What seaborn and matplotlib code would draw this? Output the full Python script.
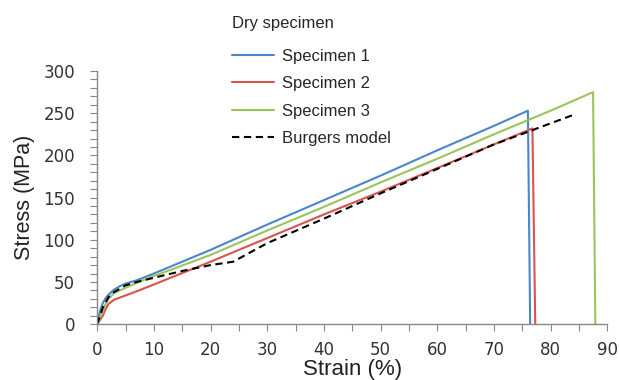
import matplotlib
matplotlib.use("Agg")
import matplotlib.pyplot as plt
import seaborn as sns
import pandas as pd

# Data
s1_strain = [0, 0.3, 0.6, 1, 1.5, 2, 3, 4, 5, 7, 10, 20, 30, 40, 50, 60, 70, 76.0, 76.4]
s1_stress = [0, 10, 18, 25, 31, 35, 41, 45, 48, 52, 60, 88, 118, 147, 176, 206, 235, 253, 0]

s2_strain = [0, 0.5, 1, 1.5, 2, 3, 5, 7, 10, 20, 30, 40, 50, 60, 70, 76.8, 77.3]
s2_stress = [0, 5, 10, 18, 24, 29, 34, 39, 47, 74, 102, 130, 157, 185, 213, 232, 0]

s3_strain = [0, 0.5, 1, 1.5, 2, 3, 5, 7, 10, 20, 30, 40, 50, 60, 70, 80, 87.5, 87.9]
s3_stress = [0, 8, 15, 24, 30, 37, 43, 49, 57, 82, 111, 139, 168, 196, 225, 253, 275, 0]

bm_strain = [0, 0.5, 1, 2, 3, 5, 7, 10, 15, 20, 24, 30, 40, 50, 60, 70, 84]
bm_stress = [0, 10, 20, 32, 38, 46, 50, 55, 63, 70, 74, 96, 125, 155, 184, 213, 248]

series_names = ["Specimen 1", "Specimen 2", "Specimen 3", "Burgers model"]
x_ticks = [0, 10, 20, 30, 40, 50, 60, 70, 80, 90]
y_ticks = [0, 50, 100, 150, 200, 250, 300]

frames = []
for name, xs, ys in zip(series_names,
                        [s1_strain, s2_strain, s3_strain, bm_strain],
                        [s1_stress, s2_stress, s3_stress, bm_stress]):
    frames.append(pd.DataFrame({"Strain": xs, "Stress": ys, "Series": name}))
df = pd.concat(frames, ignore_index=True)

sns.set_style("white")
plt.rcParams["font.family"] = ["Liberation Sans", "DejaVu Sans"]

fig = plt.figure(figsize=(6.19, 3.80), dpi=100)
ax = fig.add_axes([0.157, 0.147, 0.824, 0.666])

palette = {"Specimen 1": "#4A86C8", "Specimen 2": "#D9534F",
           "Specimen 3": "#9BC45A", "Burgers model": "#000000"}
dashes = {"Specimen 1": "", "Specimen 2": "", "Specimen 3": "",
          "Burgers model": (3.5, 2.2)}

sns.lineplot(data=df, x="Strain", y="Stress", hue="Series", style="Series",
             hue_order=series_names, style_order=series_names,
             palette=palette, dashes=dashes, sort=False, estimator=None,
             linewidth=1.5, ax=ax)

ax.set_xlim(0, 90)
ax.set_ylim(0, 300)
ax.set_xticks(x_ticks)
ax.set_yticks(y_ticks)
ax.set_xticks(range(0, 91, 5), minor=True)
ax.set_yticks(range(0, 301, 10), minor=True)
ax.set_xticklabels([str(v) for v in x_ticks], fontfamily="DejaVu Sans", fontsize=12, color="#333333")
ax.set_yticklabels([str(v) for v in y_ticks], fontfamily="DejaVu Sans", fontsize=12, color="#333333")
ax.tick_params(axis="both", which="both", direction="out", length=5, width=0.8, color="#888888")
ax.tick_params(axis="x", which="major", pad=7)
ax.tick_params(axis="y", which="major", pad=11)
ax.tick_params(axis="x", which="both", bottom=True)
ax.tick_params(axis="y", which="both", left=True)

for side in ["top", "right"]:
    ax.spines[side].set_visible(False)
for side in ["left", "bottom"]:
    ax.spines[side].set_color("#888888")
    ax.spines[side].set_linewidth(1.0)

ax.set_xlabel("Strain (%)", fontsize=16, color="#222222", labelpad=0)
ax.set_ylabel("Stress (MPa)", fontsize=15.5, color="#222222", labelpad=6)

handles, labels = ax.get_legend_handles_labels()
leg = ax.legend(handles, labels, title="Dry specimen", loc="upper left",
                bbox_to_anchor=(0.351, 0.997), bbox_transform=fig.transFigure,
                frameon=False, fontsize=12, title_fontsize=12,
                handlelength=2.5, handletextpad=0.5, labelspacing=0.75,
                alignment="left")
leg._legend_box.sep = 12.5
for line in leg.get_lines():
    line.set_linewidth(1.5)

fig.savefig("out.png", dpi=100)
